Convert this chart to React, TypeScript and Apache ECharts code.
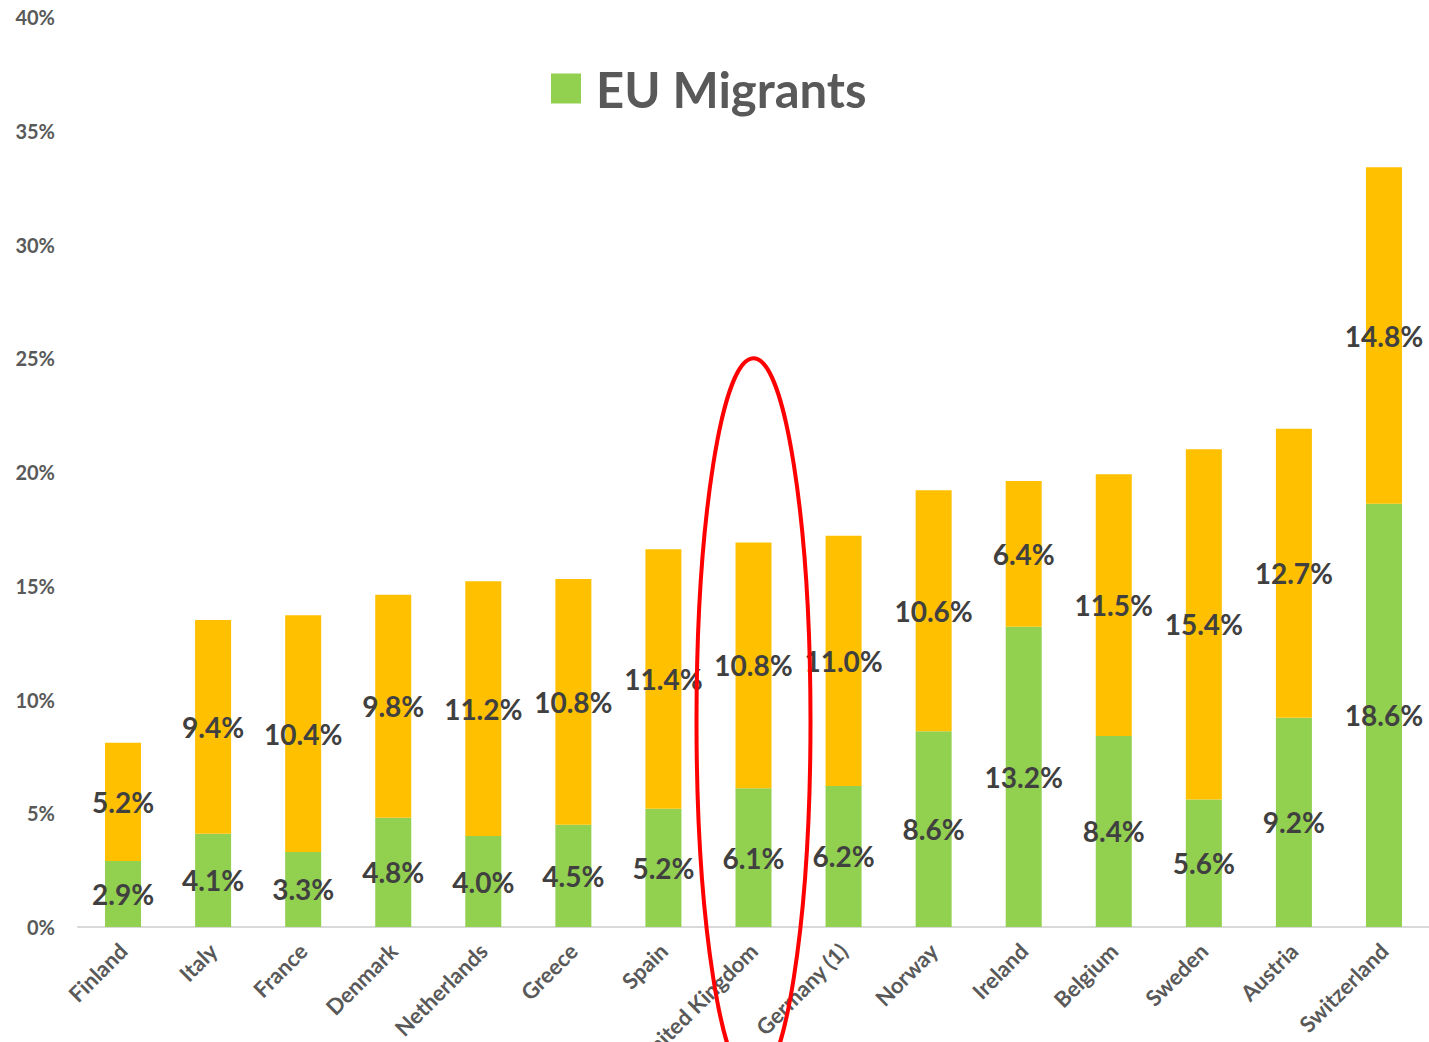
import React, { useEffect, useRef } from "react";
import * as echarts from "echarts";

const categories = [
  "Finland", "Italy", "France", "Denmark", "Netherlands", "Greece", "Spain",
  "United Kingdom", "Germany (1)", "Norway", "Ireland", "Belgium", "Sweden", "Austria", "Switzerland",
];
const euMigrants = [2.9, 4.1, 3.3, 4.8, 4.0, 4.5, 5.2, 6.1, 6.2, 8.6, 13.2, 8.4, 5.6, 9.2, 18.6];
const nonEuMigrants = [5.2, 9.4, 10.4, 9.8, 11.2, 10.8, 11.4, 10.8, 11.0, 10.6, 6.4, 11.5, 15.4, 12.7, 14.8];
const yMin = 0;
const yMax = 40;
const yInterval = 5;
const highlighted = "United Kingdom";
const ellipseTopValue = 25;
const ellipseCenterValue = 9.05;

const FONT = "Lato, 'Open Sans', sans-serif";

export default function App() {
  const ref = useRef<HTMLDivElement>(null);
  useEffect(() => {
    if (!ref.current) return;
    const chart = echarts.init(ref.current, null, { renderer: "svg" });
    const labelStyle = {
      show: true,
      position: "inside",
      formatter: (p: any) => `${Number(p.value).toFixed(1)}%`,
      fontSize: 28,
      fontWeight: "bold",
      fontFamily: FONT,
      color: "#404040",
    };
    chart.setOption({
      animation: false,
      grid: {
        left: 78,
        right: 0,
        top: 17,
        bottom: 115,
        containLabel: false,
        outerBoundsMode: "none",
      },
      legend: {
        data: ["EU Migrants"],
        top: 64,
        left: 551,
        padding: 0,
        icon: "rect",
        itemWidth: 30,
        itemHeight: 30,
        itemGap: 16,
        textStyle: {
          fontSize: 49,
          fontWeight: "bold",
          color: "#595959",
          fontFamily: FONT,
          padding: [0, 0, 0, 10],
        },
      },
      xAxis: {
        type: "category",
        data: categories,
        axisTick: { show: false },
        axisLine: { lineStyle: { color: "#d9d9d9", width: 2 } },
        axisLabel: {
          rotate: 45,
          interval: 0,
          margin: 20,
          fontSize: 22,
          fontWeight: "bold",
          color: "#595959",
          fontFamily: FONT,
        },
      },
      yAxis: {
        type: "value",
        min: yMin,
        max: yMax,
        interval: yInterval,
        axisLine: { show: false },
        axisTick: { show: false },
        splitLine: { show: false },
        axisLabel: {
          formatter: "{value}%",
          margin: 23,
          fontSize: 20,
          fontWeight: "bold",
          color: "#595959",
          fontFamily: FONT,
        },
      },
      series: [
        {
          name: "EU Migrants",
          type: "bar",
          stack: "total",
          barWidth: 36,
          data: euMigrants,
          itemStyle: { color: "#92d050" },
          label: labelStyle,
        },
        {
          name: "Non-EU Migrants",
          type: "bar",
          stack: "total",
          barWidth: 36,
          data: nonEuMigrants,
          itemStyle: { color: "#ffc000" },
          label: labelStyle,
        },
      ],
    });
    const cx = chart.convertToPixel({ xAxisIndex: 0 }, highlighted) as number;
    const top = chart.convertToPixel({ yAxisIndex: 0 }, ellipseTopValue) as number;
    const cy = chart.convertToPixel({ yAxisIndex: 0 }, ellipseCenterValue) as number;
    chart.setOption({
      graphic: [
        {
          type: "ellipse",
          z: 100,
          shape: { cx, cy, rx: 57, ry: cy - top },
          style: { fill: "none", stroke: "#ff0000", lineWidth: 4 },
        },
      ],
    });
    return () => chart.dispose();
  }, []);
  return (
    <div
      ref={ref}
      style={{ position: "absolute", left: 0, top: 0, width: 1429, height: 1042, background: "#fff" }}
    />
  );
}
